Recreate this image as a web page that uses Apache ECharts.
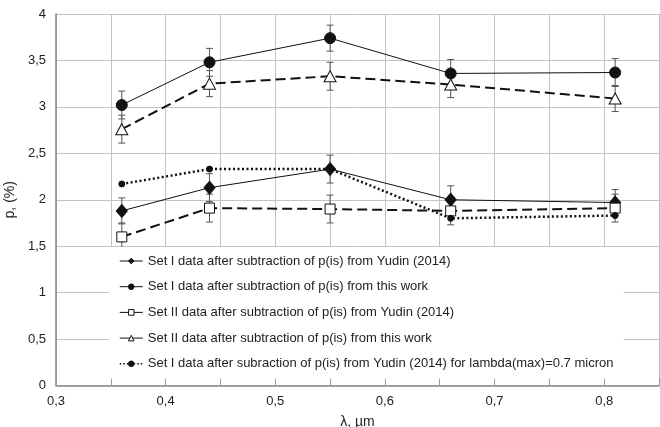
<!DOCTYPE html>
<html>
<head>
<meta charset="utf-8">
<script src="https://cdn.jsdelivr.net/npm/echarts@6/dist/echarts.min.js"></script>
<style>
html,body{margin:0;padding:0;background:#fff;}
#c{width:660px;height:427px;}
</style>
</head>
<body>
<div id="c"></div>
<script>
// ---- data ----
const wavelengths = [0.36, 0.44, 0.55, 0.66, 0.81];
const setIYudin        = [1.88, 2.13, 2.33, 2.00, 1.97];
const setIThisWork     = [3.02, 3.48, 3.74, 3.36, 3.37];
const setIIYudin       = [1.60, 1.91, 1.90, 1.88, 1.91];
const setIIThisWork    = [2.76, 3.25, 3.33, 3.24, 3.09];
const setIYudinLam07   = [2.17, 2.33, 2.33, 1.80, 1.83];
const errSetIYudin     = [0.14, 0.15, 0.15, 0.15, 0.14];
const errSetIThisWork  = [0.15, 0.15, 0.14, 0.15, 0.15];
const errSetIIYudin    = [0.15, 0.15, 0.15, 0.15, 0.15];
const errSetIIThisWork = [0.15, 0.14, 0.15, 0.14, 0.14];
const xTickValues = [0.3, 0.4, 0.5, 0.6, 0.7, 0.8];
const xTickLabels = ['0,3', '0,4', '0,5', '0,6', '0,7', '0,8'];
const yTickValues = [0, 0.5, 1, 1.5, 2, 2.5, 3, 3.5, 4];
const yTickLabels = ['0', '0,5', '1', '1,5', '2', '2,5', '3', '3,5', '4'];
const seriesNames = [
  'Set I data after subtraction of p(is) from Yudin (2014)',
  'Set I data after subtraction of p(is) from this work',
  'Set II data after subtraction of p(is) from Yudin (2014)',
  'Set II data after subtraction of p(is) from this work',
  'Set I data after subraction of p(is) from Yudin (2014) for lambda(max)=0.7 micron'
];

const FONT = '"Liberation Sans", Arial, sans-serif';
const INK = '#111';

function pairs(vals) { return wavelengths.map((x, i) => [x, vals[i]]); }
function errData(vals, errs) { return wavelengths.map((x, i) => [x, vals[i], errs[i]]); }

function labelFor(values, labels) {
  return function (v) {
    for (let i = 0; i < values.length; i++) {
      if (Math.abs(values[i] - v) < 1e-6) return labels[i];
    }
    return '';
  };
}

function errorSeries(vals, errs) {
  return {
    type: 'custom',
    silent: true,
    z: 1,
    data: errData(vals, errs),
    encode: { x: 0, y: 1 },
    renderItem: function (params, api) {
      const x = api.value(0), y = api.value(1), e = api.value(2);
      const top = api.coord([x, y + e]);
      const bot = api.coord([x, y - e]);
      const cw = 3.5;
      const st = { stroke: '#555', lineWidth: 1 };
      return {
        type: 'group',
        children: [
          { type: 'line', shape: { x1: top[0], y1: top[1], x2: bot[0], y2: bot[1] }, style: st },
          { type: 'line', shape: { x1: top[0] - cw, y1: top[1], x2: top[0] + cw, y2: top[1] }, style: st },
          { type: 'line', shape: { x1: bot[0] - cw, y1: bot[1], x2: bot[0] + cw, y2: bot[1] }, style: st }
        ]
      };
    }
  };
}

const chart = echarts.init(document.getElementById('c'), null, { renderer: 'canvas' });

chart.setOption({
  animation: false,
  backgroundColor: '#fff',
  textStyle: { fontFamily: FONT },
  grid: { left: 56, right: 1, top: 14, bottom: 41.5, containLabel: false, outerBoundsMode: 'none' },
  xAxis: {
    type: 'value',
    min: 0.3, max: 0.85, interval: 0.05,
    name: 'λ, µm',
    nameLocation: 'middle',
    nameGap: 30,
    nameTextStyle: { fontSize: 14, color: '#222', fontFamily: FONT },
    axisLine: { show: true, onZero: false, lineStyle: { color: '#888', width: 1.5 } },
    axisTick: { show: true, inside: true, length: 8, lineStyle: { color: '#999' } },
    axisLabel: { fontSize: 13, color: '#222', margin: 9, formatter: labelFor(xTickValues, xTickLabels), fontFamily: FONT },
    splitLine: { show: true, lineStyle: { color: '#c4c4c4', width: 1 } }
  },
  yAxis: {
    type: 'value',
    min: 0, max: 4, interval: 0.5,
    name: 'p, (%)',
    nameLocation: 'middle',
    nameGap: 32,
    nameRotate: 90,
    nameTextStyle: { fontSize: 14, color: '#222', fontFamily: FONT },
    axisLine: { show: true, lineStyle: { color: '#888', width: 1.5 } },
    axisTick: { show: false },
    axisLabel: { fontSize: 13, color: '#222', margin: 10, formatter: labelFor(yTickValues, yTickLabels), fontFamily: FONT },
    splitLine: { show: true, lineStyle: { color: '#c4c4c4', width: 1 } }
  },
  legend: {
    orient: 'vertical',
    left: 109,
    top: 247,
    padding: [7, 10, 8, 10],
    backgroundColor: '#fff',
    itemWidth: 23,
    itemHeight: 7,
    itemGap: 11.7,
    itemStyle: { borderWidth: 1 },
    lineStyle: { width: 1 },
    textStyle: { fontSize: 13, color: '#222', lineHeight: 14, fontFamily: FONT },
    data: [
      { name: seriesNames[0] },
      { name: seriesNames[1] },
      { name: seriesNames[2], lineStyle: { type: 'solid', width: 1 } },
      { name: seriesNames[3], lineStyle: { type: 'solid', width: 1 } },
      { name: seriesNames[4], lineStyle: { type: [1.5, 2], width: 1.5 } }
    ]
  },
  series: [
    errorSeries(setIYudin, errSetIYudin),
    errorSeries(setIThisWork, errSetIThisWork),
    errorSeries(setIIYudin, errSetIIYudin),
    errorSeries(setIIThisWork, errSetIIThisWork),
    {
      name: seriesNames[0], type: 'line', data: pairs(setIYudin), z: 3,
      symbol: 'diamond', symbolSize: [11, 13],
      lineStyle: { color: INK, width: 1 },
      itemStyle: { color: INK, borderColor: INK }
    },
    {
      name: seriesNames[1], type: 'line', data: pairs(setIThisWork), z: 3,
      symbol: 'circle', symbolSize: 11,
      lineStyle: { color: INK, width: 1 },
      itemStyle: { color: INK, borderColor: INK }
    },
    {
      name: seriesNames[2], type: 'line', data: pairs(setIIYudin), z: 3,
      symbol: 'rect', symbolSize: 10,
      lineStyle: { color: INK, width: 2, type: [10, 5] },
      itemStyle: { color: '#fff', borderColor: INK, borderWidth: 1 }
    },
    {
      name: seriesNames[3], type: 'line', data: pairs(setIIThisWork), z: 3,
      symbol: 'triangle', symbolSize: [12, 11],
      lineStyle: { color: INK, width: 2, type: [10, 5] },
      itemStyle: { color: '#fff', borderColor: INK, borderWidth: 1 }
    },
    {
      name: seriesNames[4], type: 'line', data: pairs(setIYudinLam07), z: 3,
      symbol: 'circle', symbolSize: 6,
      lineStyle: { color: INK, width: 2.5, type: [2, 2.5] },
      itemStyle: { color: INK, borderColor: INK }
    }
  ]
});
</script>
</body>
</html>
